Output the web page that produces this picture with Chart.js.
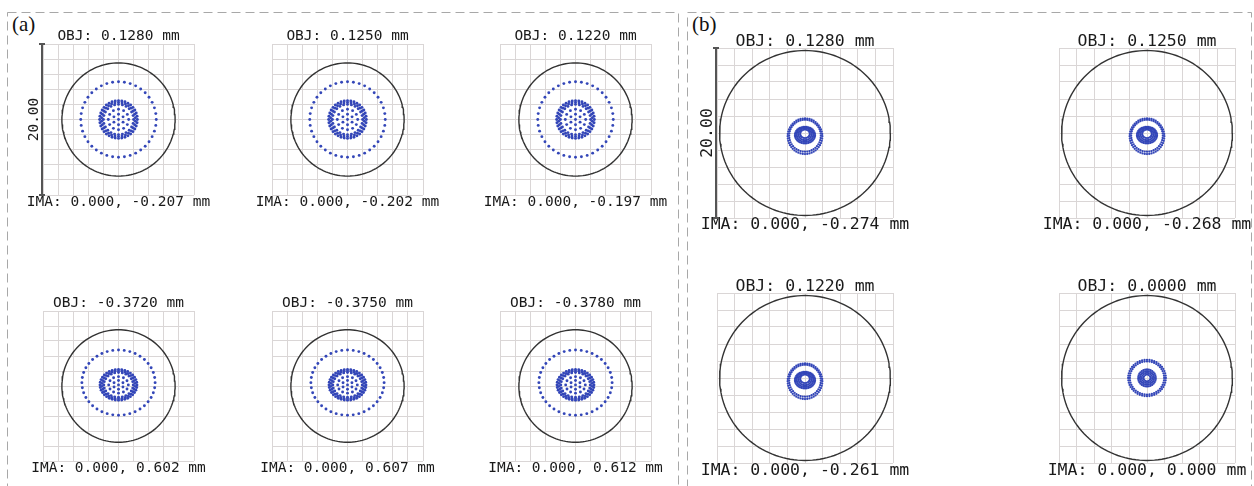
<!DOCTYPE html>
<html>
<head>
<meta charset="utf-8">
<script src="https://cdn.jsdelivr.net/npm/chart.js@4.4.1/dist/chart.umd.min.js"></script>
<style>
  body { margin: 0; background: #fff; width: 1254px; height: 486px; overflow: hidden; position: relative; }
  .panel { position: absolute; }
  .tag { position: absolute; font-family: "Liberation Serif", "DejaVu Serif", serif; font-size: 21px; color: #111; line-height: 1; }
  svg.frame { position: absolute; left: 0; top: 0; }
</style>
</head>
<body>
<svg class="frame" width="1254" height="486">
  <rect x="7.5" y="12.5" width="671" height="500" fill="none" stroke="#a8a8a8" stroke-width="1" stroke-dasharray="9 5"/>
  <rect x="687.5" y="12.5" width="564" height="500" fill="none" stroke="#a8a8a8" stroke-width="1" stroke-dasharray="9 5"/>
</svg>
<div class="tag" style="left:12px;top:14px">(a)</div>
<div class="tag" style="left:692px;top:14px">(b)</div>

<script>
// field labels of the ten spot diagrams: (a) 3x2, then (b) 2x2
const objLabels = [
  'OBJ: 0.1280 mm', 'OBJ: 0.1250 mm', 'OBJ: 0.1220 mm',
  'OBJ: -0.3720 mm', 'OBJ: -0.3750 mm', 'OBJ: -0.3780 mm',
  'OBJ: 0.1280 mm', 'OBJ: 0.1250 mm', 'OBJ: 0.1220 mm', 'OBJ: 0.0000 mm'
];
const imaLabels = [
  'IMA: 0.000, -0.207 mm', 'IMA: 0.000, -0.202 mm', 'IMA: 0.000, -0.197 mm',
  'IMA: 0.000, 0.602 mm', 'IMA: 0.000, 0.607 mm', 'IMA: 0.000, 0.612 mm',
  'IMA: 0.000, -0.274 mm', 'IMA: 0.000, -0.268 mm', 'IMA: 0.000, -0.261 mm', 'IMA: 0.000, 0.000 mm'
];

// scale bar (um, full grid) and airy radius per panel (um)
const scaleBar = 20.00;
const airyRadius = [7.5, 7.5, 7.5, 7.5, 7.5, 7.5, 9.7, 9.7, 9.7, 9.7];

// spot rings: [rx, ry, number of rays, y shift]
const ringsATop = [
  [5.0, 5.0, 40, 0], [2.5, 2.5, 36, 0], [2.25, 2.25, 30, 0], [2.0, 2.0, 24, 0],
  [1.35, 1.35, 12, 0], [0.7, 0.7, 6, 0], [0, 0, 1, 0]
];
const ringsABottom = [
  [4.85, 4.35, 40, 0.45], [2.45, 2.05, 36, 0.15], [2.2, 1.85, 30, 0.15], [1.95, 1.65, 24, 0.15],
  [1.3, 1.1, 12, 0.15], [0.68, 0.58, 6, 0.15], [0, 0, 1, 0.15]
];
const ringsBOff = [
  [1.97, 2.1, 48, -0.38], [1.8, 1.88, 44, -0.32], [1.14, 0.98, 36, -0.25],
  [0.95, 0.85, 30, -0.2], [0.75, 0.7, 24, -0.15], [0.55, 0.5, 18, -0.1]
];
const ringsBOn = [
  [2.14, 2.14, 48, 0], [1.95, 1.95, 44, 0], [1.0, 1.0, 30, 0],
  [0.8, 0.8, 24, 0], [0.6, 0.6, 18, 0], [0.4, 0.4, 12, 0]
];
const spotRings = [ringsATop, ringsATop, ringsATop, ringsABottom, ringsABottom, ringsABottom,
                   ringsBOff, ringsBOff, ringsBOff, ringsBOn];

// where each plot grid sits on the page
const layoutBoxes = [
  { x: 43, y: 44, w: 151, h: 151, font: 14.5, top: 7.5, bot: 7.5, bar: true },
  { x: 272, y: 44, w: 151, h: 151, font: 14.5, top: 7.5, bot: 7.5 },
  { x: 500, y: 44, w: 151, h: 151, font: 14.5, top: 7.5, bot: 7.5 },
  { x: 43, y: 311, w: 151, h: 150, font: 14.5, top: 7.5, bot: 7.5 },
  { x: 272, y: 311, w: 151, h: 150, font: 14.5, top: 7.5, bot: 7.5 },
  { x: 500, y: 311, w: 151, h: 150, font: 14.5, top: 7.5, bot: 7.5 },
  { x: 717, y: 48, w: 176, h: 170, font: 16.5, top: 6, bot: 7, bar: true },
  { x: 1059, y: 48, w: 176, h: 170, font: 16.5, top: 6, bot: 7 },
  { x: 717, y: 293, w: 176, h: 170, font: 16.5, top: 6, bot: 8 },
  { x: 1059, y: 293, w: 176, h: 170, font: 16.5, top: 6, bot: 8 }
];

const monoFont = '"DejaVu Sans Mono", "Liberation Mono", monospace';
const gridColor = '#dad6d6';
const spotColor = '#3346b8';

function ringPoints(rings) {
  const pts = [];
  rings.forEach(([rx, ry, n, dy]) => {
    for (let i = 0; i < n; i++) {
      const a = 2 * Math.PI * i / n + Math.PI / 2;
      pts.push({ x: rx * Math.cos(a), y: dy + ry * Math.sin(a) });
    }
  });
  return pts;
}

function circlePoints(r) {
  const pts = [];
  for (let i = 0; i <= 144; i++) {
    const a = 2 * Math.PI * i / 144;
    pts.push({ x: r * Math.cos(a), y: r * Math.sin(a) });
  }
  return pts;
}

// draws the "20.00" scale bar on the left of the first diagram of each group
const scaleBarPlugin = {
  id: 'scaleBar',
  afterDraw(chart, args, opts) {
    if (!opts.show) return;
    const { ctx, chartArea: { left, top, bottom } } = chart;
    const x = left - 1;
    ctx.save();
    ctx.strokeStyle = '#555';
    ctx.lineWidth = 2;
    ctx.beginPath();
    ctx.moveTo(x, top); ctx.lineTo(x, bottom);
    ctx.moveTo(x - 3, top); ctx.lineTo(x + 3, top);
    ctx.moveTo(x - 3, bottom); ctx.lineTo(x + 3, bottom);
    ctx.stroke();
    ctx.translate(x - 8, (top + bottom) / 2);
    ctx.rotate(-Math.PI / 2);
    ctx.fillStyle = '#1a1a1a';
    ctx.font = opts.size + 'px ' + monoFont;
    ctx.textAlign = 'center';
    ctx.textBaseline = 'middle';
    ctx.fillText(scaleBar.toFixed(2), 0, 0);
    ctx.restore();
  }
};

layoutBoxes.forEach((b, i) => {
  const padX = 34, padY = 4;
  const div = document.createElement('div');
  div.className = 'panel';
  div.style.left = (b.x - padX) + 'px';
  div.style.top = (b.y - 2 * b.top - padY) + 'px';
  div.style.width = (b.w + 2 * padX) + 'px';
  div.style.height = (b.h + 2 * b.top + 2 * b.bot + 2 * padY) + 'px';
  const canvas = document.createElement('canvas');
  div.appendChild(canvas);
  document.body.appendChild(div);

  const half = scaleBar / 2;
  const axis = (isX) => ({
    type: 'linear',
    min: -half,
    max: half,
    ticks: { display: false, stepSize: 2 },
    grid: { color: gridColor, lineWidth: 1, drawTicks: false },
    border: { display: false },
    afterFit(s) { if (isX) s.height = 0; else s.width = padX; }
  });

  new Chart(canvas, {
    type: 'scatter',
    data: {
      datasets: [
        {
          data: circlePoints(airyRadius[i]),
          showLine: true,
          borderColor: '#333',
          borderWidth: 1.4,
          pointRadius: 0,
          fill: false
        },
        {
          data: ringPoints(spotRings[i]),
          pointRadius: i < 6 ? 1.45 : 1.15,
          pointBorderWidth: 0,
          backgroundColor: spotColor,
          pointStyle: 'circle'
        }
      ]
    },
    options: {
      responsive: true,
      maintainAspectRatio: false,
      animation: false,
      layout: { padding: { left: 0, right: 0, top: padY, bottom: padY }, autoPadding: false },
      scales: {
        x: axis(true),
        y: axis(false),
        // empty right-hand margin so the chart area stays centred under the labels
        yRight: {
          type: 'linear',
          position: 'right',
          display: true,
          ticks: { display: false },
          grid: { display: false, drawTicks: false },
          border: { display: false },
          afterFit(s) { s.width = padX; }
        }
      },
      plugins: {
        legend: { display: false },
        tooltip: { enabled: false },
        title: {
          display: true,
          text: objLabels[i],
          color: '#1a1a1a',
          padding: 0,
          font: { family: monoFont, size: b.font, weight: 'normal', lineHeight: (2 * b.top) + 'px' }
        },
        subtitle: {
          display: true,
          position: 'bottom',
          text: imaLabels[i],
          color: '#1a1a1a',
          padding: 0,
          font: { family: monoFont, size: b.font, weight: 'normal', lineHeight: (2 * b.bot) + 'px' }
        },
        scaleBar: { show: !!b.bar, size: b.font }
      }
    },
    plugins: [scaleBarPlugin]
  });
});
</script>
</body>
</html>
